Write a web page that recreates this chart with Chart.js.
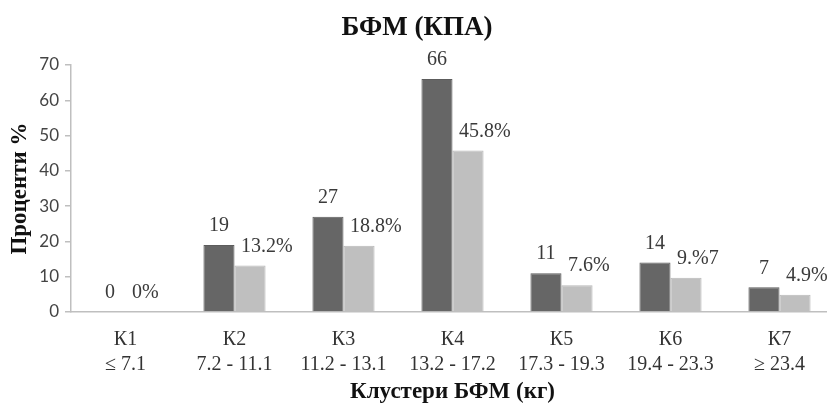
<!DOCTYPE html>
<html>
<head>
<meta charset="utf-8">
<script src="https://cdn.jsdelivr.net/npm/chart.js@4.4.1/dist/chart.umd.min.js"></script>
<style>
  html, body { margin: 0; padding: 0; background: #fff; overflow: hidden; }
</style>
</head>
<body>
<canvas id="chart" width="834" height="404"></canvas>
<script>
// data
const categories = [
  ['К1', '≤ 7.1'],
  ['К2', '7.2 - 11.1'],
  ['К3', '11.2 - 13.1'],
  ['К4', '13.2 - 17.2'],
  ['К5', '17.3 - 19.3'],
  ['К6', '19.4 - 23.3'],
  ['К7', '≥ 23.4']
];
const countValues = [0, 19, 27, 66, 11, 14, 7];
const percentValues = [0, 13.2, 18.8, 45.8, 7.6, 9.7, 4.9];
const countLabels = ['0', '19', '27', '66', '11', '14', '7'];
const percentLabels = ['0%', '13.2%', '18.8%', '45.8%', '7.6%', '9.%7', '4.9%'];
const yTicks = [0, 10, 20, 30, 40, 50, 60, 70];

const serif = '"Liberation Serif", "Times New Roman", serif';

// draws the value labels over the bars
const barLabels = {
  id: 'barLabels',
  afterDatasetsDraw(chart) {
    const ctx = chart.ctx;
    ctx.save();
    ctx.font = '20px ' + serif;
    ctx.fillStyle = '#3a3a3a';
    ctx.textBaseline = 'middle';
    chart.getDatasetMeta(0).data.forEach((bar, i) => {
      ctx.textAlign = 'center';
      ctx.fillText(countLabels[i], bar.x, bar.y - 19);
    });
    chart.getDatasetMeta(1).data.forEach((bar, i) => {
      ctx.textAlign = 'left';
      ctx.fillText(percentLabels[i], bar.x - 9, bar.y - 19);
    });
    ctx.restore();
  }
};

new Chart(document.getElementById('chart'), {
  type: 'bar',
  data: {
    labels: categories,
    datasets: [
      {
        label: 'број',
        data: countValues,
        backgroundColor: '#666666',
        borderColor: '#5c5c5c',
        borderWidth: 1,
        categoryPercentage: 0.57,
        barPercentage: 1
      },
      {
        label: '%',
        data: percentValues,
        backgroundColor: '#bfbfbf',
        borderColor: '#b8b8b8',
        borderWidth: 1,
        categoryPercentage: 0.57,
        barPercentage: 1
      }
    ]
  },
  options: {
    responsive: false,
    animation: false,
    layout: { padding: 0 },
    plugins: {
      legend: { display: false },
      tooltip: { enabled: false },
      title: {
        display: true,
        text: 'БФМ (КПА)',
        color: '#111',
        font: { family: serif, size: 27, weight: 'bold', lineHeight: 1.2 },
        padding: { top: 12, bottom: 20.6 }
      }
    },
    scales: {
      x: {
        grid: { display: false },
        border: { display: true, color: '#bfbfbf', width: 1.5 },
        ticks: {
          color: '#333',
          padding: 7,
          maxRotation: 0,
          autoSkip: false,
          font: { family: serif, size: 20, lineHeight: 1.25 }
        },
        title: {
          display: true,
          text: 'Клустери БФМ (кг)',
          color: '#111',
          font: { family: serif, size: 23, weight: 'bold', lineHeight: 1.0 },
          padding: { top: 0, bottom: 0 }
        },
        afterFit(scale) { scale.height = 92; }
      },
      y: {
        min: 0,
        max: 70,
        afterBuildTicks(scale) { scale.ticks = yTicks.map(v => ({ value: v })); },
        grid: {
          drawOnChartArea: false,
          drawTicks: true,
          tickLength: 6,
          color: '#bfbfbf',
          lineWidth: 1.5
        },
        border: { display: true, color: '#bfbfbf', width: 1.5 },
        ticks: {
          color: '#444',
          padding: 6,
          font: { family: 'Lato, "Open Sans", sans-serif', size: 17 }
        },
        title: {
          display: true,
          text: 'Проценти %',
          color: '#111',
          font: { family: serif, size: 23, weight: 'bold', lineHeight: 1.0 },
          padding: { top: 8.5, bottom: 0 }
        },
        afterFit(scale) { scale.width = 71; }
      }
    }
  },
  plugins: [barLabels]
});
</script>
</body>
</html>
